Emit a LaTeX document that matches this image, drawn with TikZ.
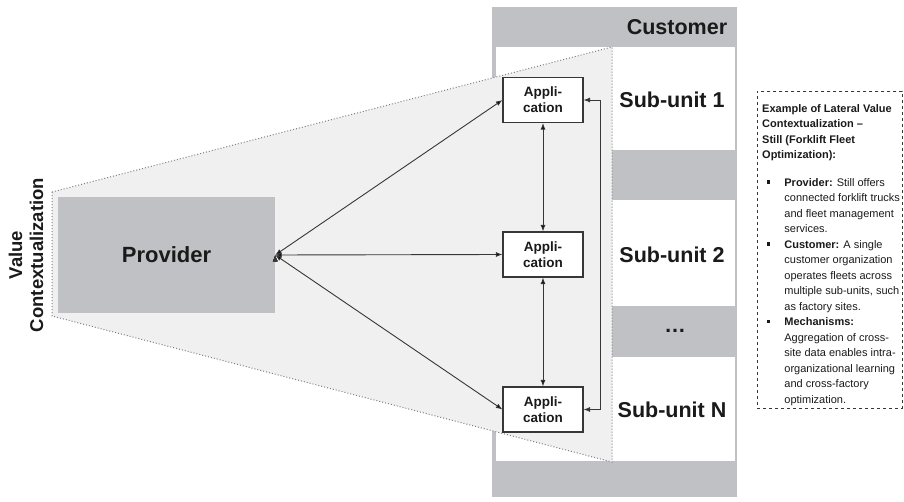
\documentclass[tikz,border=0pt]{standalone}
\usepackage{fontspec}
\setmainfont{Liberation Sans}
\usetikzlibrary{arrows.meta}
\definecolor{boxgray}{RGB}{192,193,197}
\definecolor{shadegray}{RGB}{240,240,240}
\definecolor{linegray}{RGB}{55,55,55}
\definecolor{txtgray}{RGB}{26,26,26}
\newcommand{\sqbul}{\rule[2.4pt]{3.2pt}{3.2pt}}

\begin{document}
\begin{tikzpicture}[
  x=1pt, y=-1pt,
  big/.style={font=\fontsize{21.5}{24}\selectfont\bfseries, text=txtgray},
  anode/.style={draw=linegray, fill=white, line width=1.1pt, minimum width=80pt, minimum height=45pt, inner sep=0pt, align=center, font=\fontsize{13.5}{16}\selectfont\bfseries, text=txtgray},
  pnode/.style={fill=boxgray, minimum width=217pt, minimum height=116pt, inner sep=0pt, font=\fontsize{22}{24}\selectfont\bfseries, text=txtgray},
  link/.style={draw=linegray, line width=0.9pt, {Latex[length=6.5pt,width=5pt]}-{Latex[length=6.5pt,width=5pt]}}
]
  \useasboundingbox (0,0) rectangle (904,502);

  % customer column
  \fill[boxgray] (492,7) rectangle (737,497);
  \fill[white] (496,47) rectangle (735,150);
  \fill[white] (496,200) rectangle (735,306);
  \fill[white] (496,357) rectangle (735,461);

  % contextualization area
  \filldraw[fill=shadegray, draw=gray, dotted, line width=1pt]
    (52,192) -- (612,47) -- (612,462) -- (52,316) -- cycle;

  % provider
  \node[pnode] (prov) at (166.5,255) {Provider};
  \node[rotate=90, align=center, font=\fontsize{18.5}{21}\selectfont\bfseries, text=txtgray] (vc) at (26,255) {Value\\Contextualization};

  % applications
  \node[anode] (app1) at (543,100) {Appli-\\cation};
  \node[anode] (app2) at (543,254.5) {Appli-\\cation};
  \node[anode] (app3) at (543,409.5) {Appli-\\cation};

  % sub-units
  \node[big] (cust) at (677,27) {Customer};
  \node[big] (su1) at (672,100) {Sub-unit 1};
  \node[big] (su2) at (672,254.5) {Sub-unit 2};
  \node[big] (sudot) at (675,331) {…};
  \node[big] (suN) at (672,409.5) {Sub-unit N};

  % edges
  \draw[link] (prov.east) edge (app1.west);
  \draw[link] (prov.east) edge (app2.west);
  \draw[link] (prov.east) edge (app3.west);
  \draw[link] (app1) edge (app2);
  \draw[link] (app2) edge (app3);
  \draw[link] (app1.east) -- ++(17,0) |- (app3.east);

  % example box
  \node[draw=linegray, dashed, line width=0.6pt, minimum width=145pt, minimum height=317pt, anchor=north west] (exbox) at (757,91) {};
  \node[anchor=north west, inner sep=0pt, font=\fontsize{11}{15.5}\selectfont, text=txtgray] (ex) at (762,101) {%
    \begin{tabular}{@{\hspace{5pt}}l@{\hspace{14pt}}l@{}}
      \multicolumn{2}{@{}l@{}}{\bfseries Example of Lateral Value}\\
      \multicolumn{2}{@{}l@{}}{\bfseries Contextualization –}\\
      \multicolumn{2}{@{}l@{}}{\bfseries Still (Forklift Fleet}\\
      \multicolumn{2}{@{}l@{}}{\bfseries Optimization):}\\[12pt]
      \sqbul & \textbf{Provider:} Still offers\\
             & connected forklift trucks\\
             & and fleet management\\
             & services.\\
      \sqbul & \textbf{Customer:} A single\\
             & customer organization\\
             & operates fleets across\\
             & multiple sub-units, such\\
             & as factory sites.\\
      \sqbul & \textbf{Mechanisms:}\\
             & Aggregation of cross-\\
             & site data enables intra-\\
             & organizational learning\\
             & and cross-factory\\
             & optimization.
    \end{tabular}};
\end{tikzpicture}
\end{document}
